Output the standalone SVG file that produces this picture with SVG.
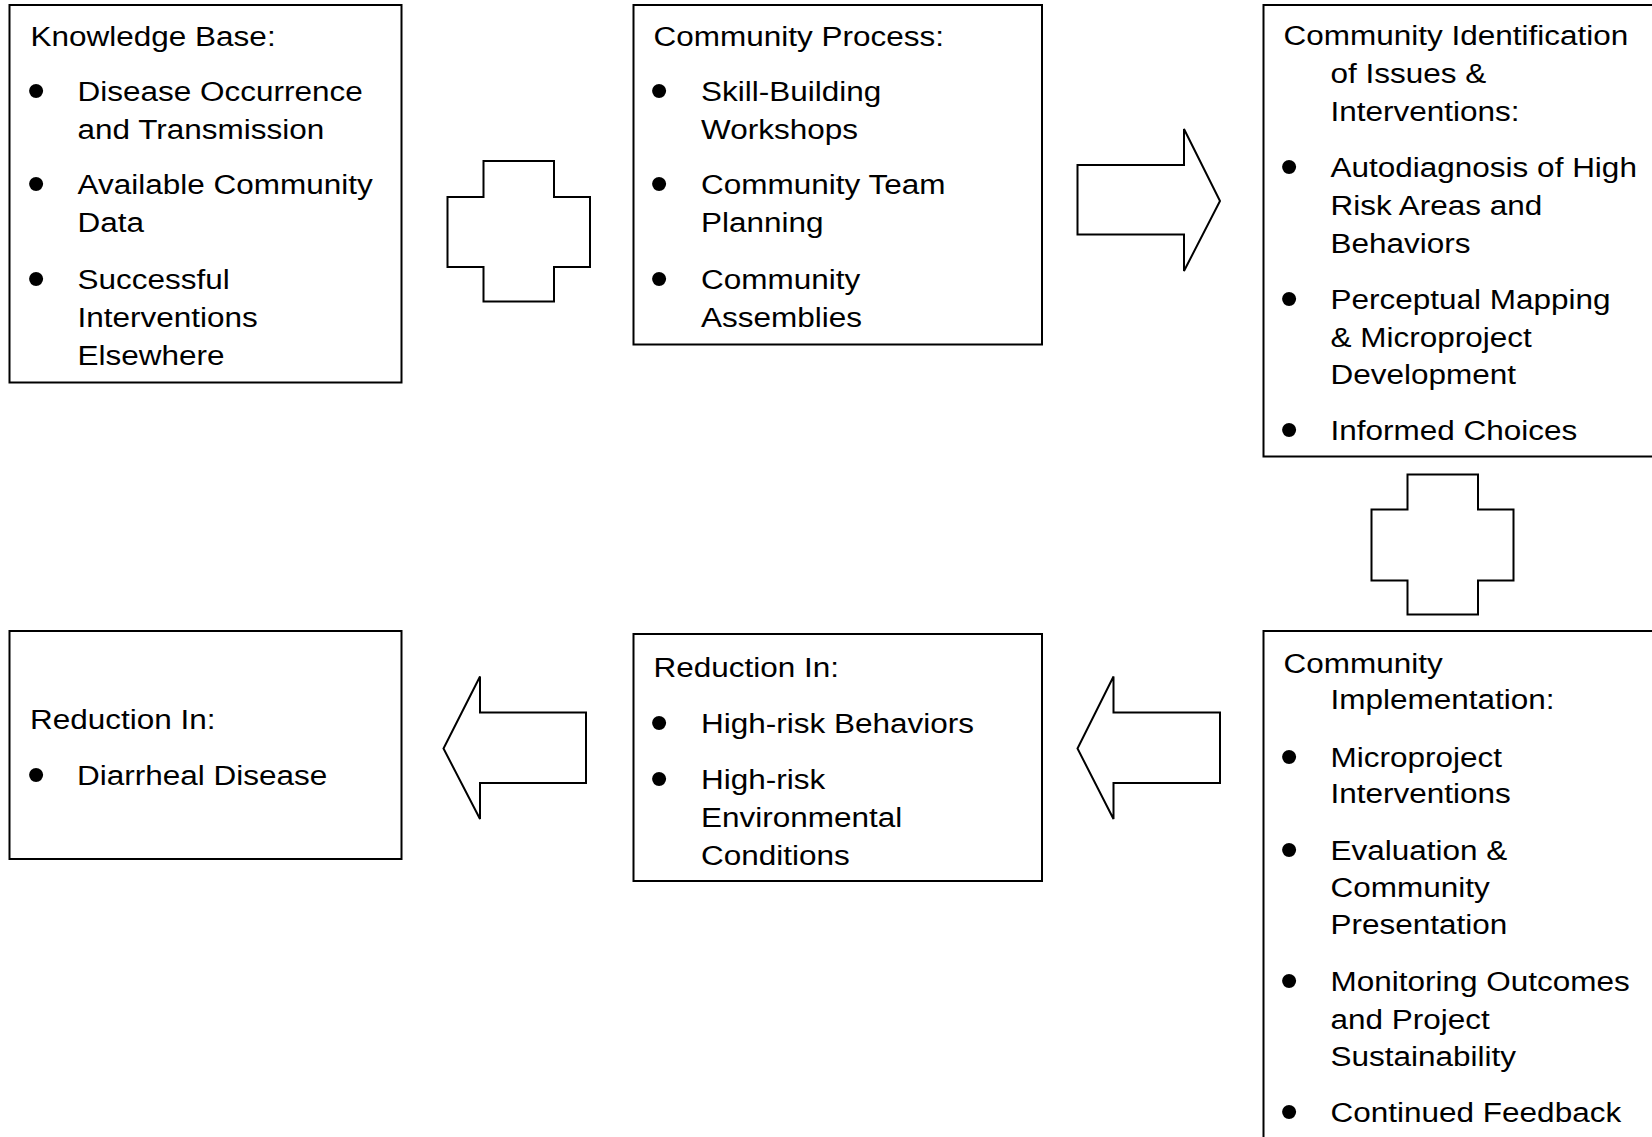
<svg xmlns="http://www.w3.org/2000/svg" width="1652" height="1137" viewBox="0 0 1652 1137">
<style>
.box{fill:#fff;stroke:#000;stroke-width:2}
.shape{fill:#fff;stroke:#000;stroke-width:2;stroke-linejoin:miter}
text{font-family:"Liberation Sans",Arial,sans-serif;font-size:28px;fill:#000}
text.b{font-size:52px}
</style>
<rect width="1652" height="1137" fill="#fff"/>
<g id="connectors">
<polygon class="shape" points="483.5,161 554,161 554,197 590,197 590,267 554,267 554,301.5 483.5,301.5 483.5,267 447.5,267 447.5,197 483.5,197"/>
<polygon class="shape" points="1077.5,165 1184,165 1184,129 1220,201 1184,271 1184,234.5 1077.5,234.5"/>
<polygon class="shape" points="1407.5,474.5 1478,474.5 1478,509.5 1513.5,509.5 1513.5,580.5 1478,580.5 1478,614.5 1407.5,614.5 1407.5,580.5 1371.5,580.5 1371.5,509.5 1407.5,509.5"/>
<polygon class="shape" points="586,712.5 480,712.5 480,676.5 443.5,748.5 480,819 480,783 586,783"/>
<polygon class="shape" points="1220,712.5 1113.5,712.5 1113.5,676.5 1077.5,748.5 1113.5,819 1113.5,783 1220,783"/>
</g>
<g id="knowledge-base">
<rect class="box" x="9.5" y="5" width="392" height="377.5"/>
<text transform="translate(30.5,46) scale(1.125,1)">Knowledge Base:</text>
<text class="b" x="27" y="108">•</text>
<text transform="translate(77.5,101) scale(1.125,1)">Disease Occurrence</text>
<text transform="translate(77.5,139) scale(1.125,1)">and Transmission</text>
<text class="b" x="27" y="201">•</text>
<text transform="translate(77.5,194) scale(1.125,1)">Available Community</text>
<text transform="translate(77.5,232) scale(1.125,1)">Data</text>
<text class="b" x="27" y="296">•</text>
<text transform="translate(77.5,289) scale(1.125,1)">Successful</text>
<text transform="translate(77.5,327) scale(1.125,1)">Interventions</text>
<text transform="translate(77.5,365) scale(1.125,1)">Elsewhere</text>
</g>
<g id="community-process">
<rect class="box" x="633.5" y="5" width="408.5" height="339.5"/>
<text transform="translate(653.5,46) scale(1.125,1)">Community Process:</text>
<text class="b" x="650" y="108">•</text>
<text transform="translate(701,101) scale(1.125,1)">Skill-Building</text>
<text transform="translate(701,139) scale(1.125,1)">Workshops</text>
<text class="b" x="650" y="201">•</text>
<text transform="translate(701,194) scale(1.125,1)">Community Team</text>
<text transform="translate(701,232) scale(1.125,1)">Planning</text>
<text class="b" x="650" y="296">•</text>
<text transform="translate(701,289) scale(1.125,1)">Community</text>
<text transform="translate(701,327) scale(1.125,1)">Assemblies</text>
</g>
<g id="community-identification">
<rect class="box" x="1263.5" y="5" width="400" height="451.5"/>
<text transform="translate(1283.5,45) scale(1.125,1)">Community Identification</text>
<text transform="translate(1330.5,83) scale(1.125,1)">of Issues &amp;</text>
<text transform="translate(1330.5,121) scale(1.125,1)">Interventions:</text>
<text class="b" x="1280" y="183.5">•</text>
<text transform="translate(1330.5,176.5) scale(1.125,1)">Autodiagnosis of High</text>
<text transform="translate(1330.5,214.5) scale(1.125,1)">Risk Areas and</text>
<text transform="translate(1330.5,252.5) scale(1.125,1)">Behaviors</text>
<text class="b" x="1280" y="316">•</text>
<text transform="translate(1330.5,309) scale(1.125,1)">Perceptual Mapping</text>
<text transform="translate(1330.5,347) scale(1.125,1)">&amp; Microproject</text>
<text transform="translate(1330.5,383.5) scale(1.125,1)">Development</text>
<text class="b" x="1280" y="447">•</text>
<text transform="translate(1330.5,440) scale(1.125,1)">Informed Choices</text>
</g>
<g id="community-implementation">
<rect class="box" x="1263.5" y="631" width="400" height="520"/>
<text transform="translate(1283.5,673) scale(1.125,1)">Community</text>
<text transform="translate(1330.5,709) scale(1.125,1)">Implementation:</text>
<text class="b" x="1280" y="774">•</text>
<text transform="translate(1330.5,767) scale(1.125,1)">Microproject</text>
<text transform="translate(1330.5,802.5) scale(1.125,1)">Interventions</text>
<text class="b" x="1280" y="867">•</text>
<text transform="translate(1330.5,860) scale(1.125,1)">Evaluation &amp;</text>
<text transform="translate(1330.5,897) scale(1.125,1)">Community</text>
<text transform="translate(1330.5,934) scale(1.125,1)">Presentation</text>
<text class="b" x="1280" y="998">•</text>
<text transform="translate(1330.5,991) scale(1.125,1)">Monitoring Outcomes</text>
<text transform="translate(1330.5,1029) scale(1.125,1)">and Project</text>
<text transform="translate(1330.5,1066) scale(1.125,1)">Sustainability</text>
<text class="b" x="1280" y="1128.5">•</text>
<text transform="translate(1330.5,1121.5) scale(1.125,1)">Continued Feedback</text>
</g>
<g id="reduction-behaviors">
<rect class="box" x="633.5" y="634" width="408.5" height="247"/>
<text transform="translate(653.5,677) scale(1.125,1)">Reduction In:</text>
<text class="b" x="650" y="740">•</text>
<text transform="translate(701,733) scale(1.125,1)">High-risk Behaviors</text>
<text class="b" x="650" y="796">•</text>
<text transform="translate(701,789) scale(1.125,1)">High-risk</text>
<text transform="translate(701,827) scale(1.125,1)">Environmental</text>
<text transform="translate(701,864.5) scale(1.125,1)">Conditions</text>
</g>
<g id="reduction-disease">
<rect class="box" x="9.5" y="631" width="392" height="228"/>
<text transform="translate(30,728.5) scale(1.125,1)">Reduction In:</text>
<text class="b" x="27" y="791.5">•</text>
<text transform="translate(77,784.5) scale(1.125,1)">Diarrheal Disease</text>
</g>
</svg>
